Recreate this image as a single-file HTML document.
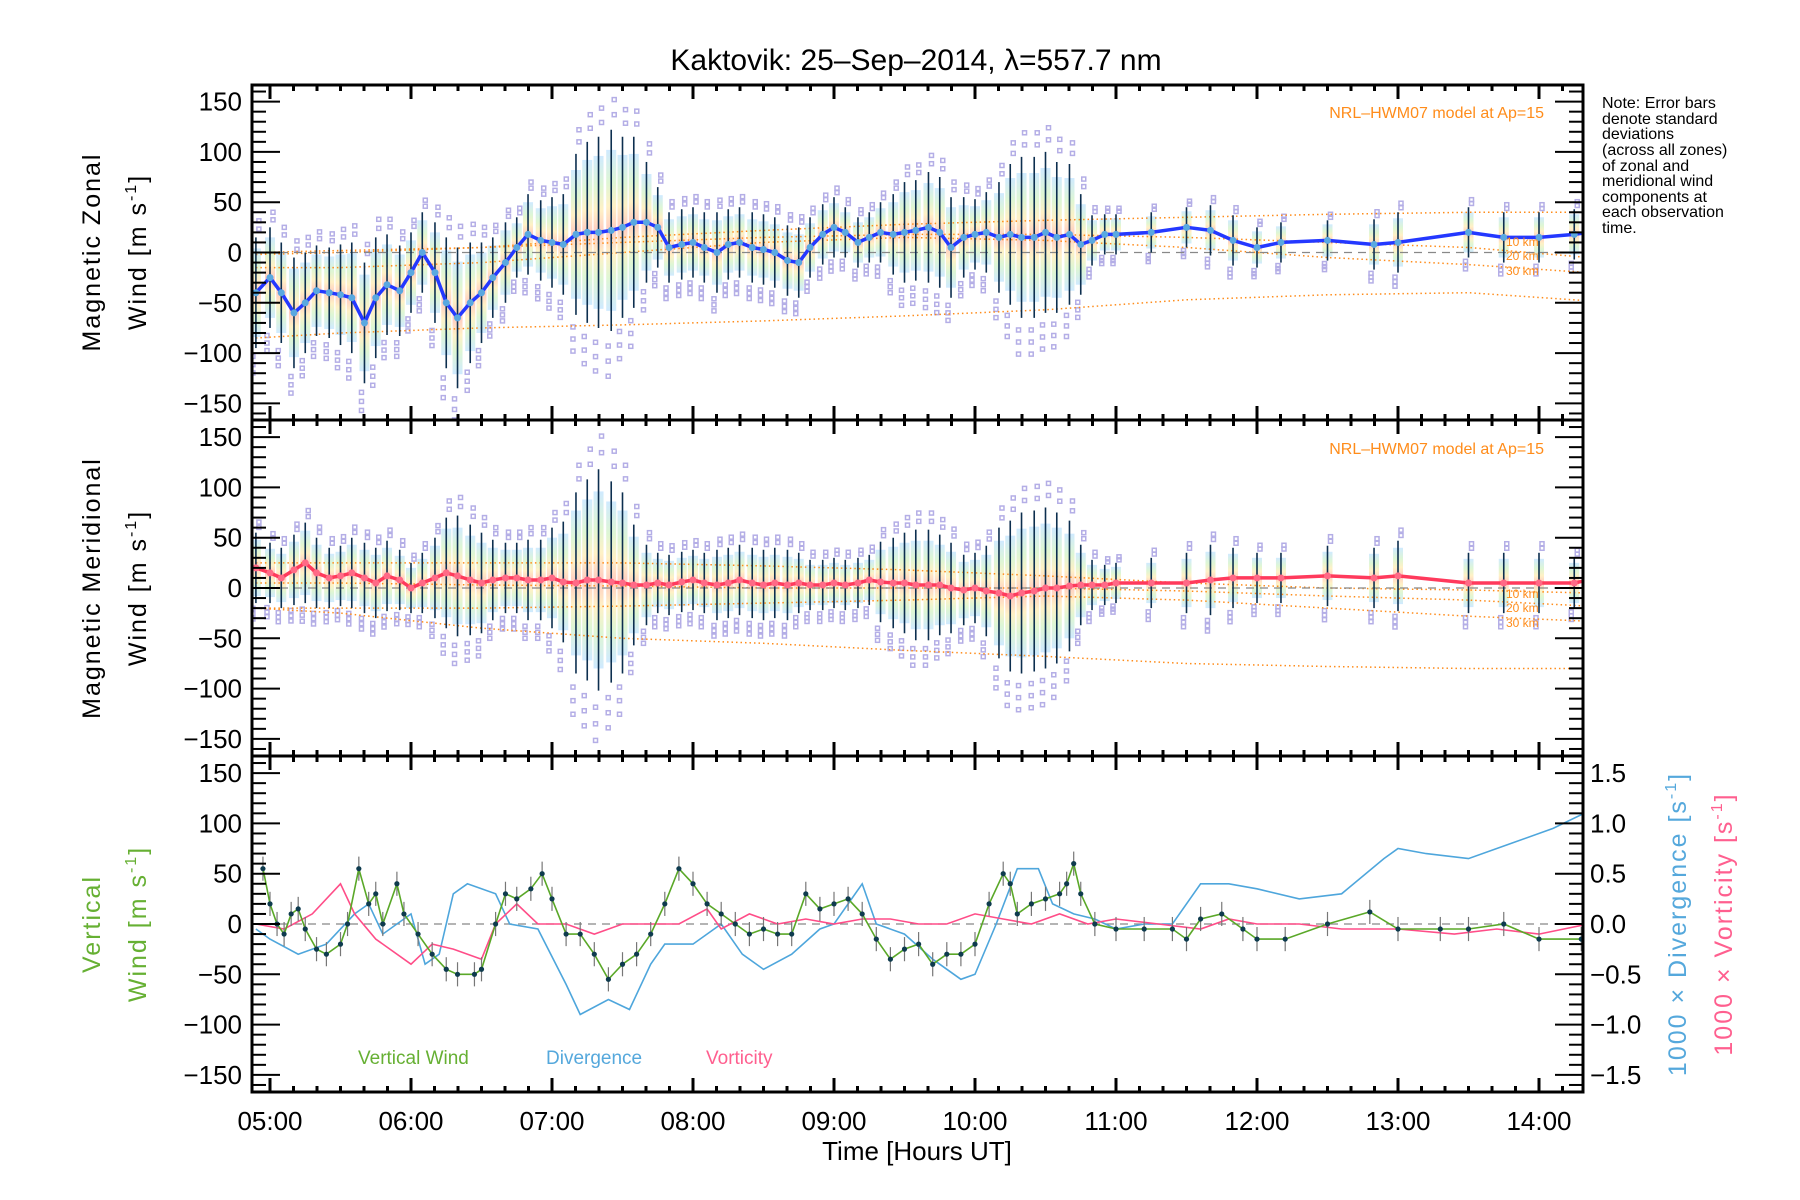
<!DOCTYPE html>
<html><head><meta charset="utf-8"><style>
html,body{margin:0;padding:0;background:#fff;}
svg{display:block;font-family:"Liberation Sans",sans-serif;}
</style></head><body>
<svg id="chart" width="1800" height="1200" viewBox="0 0 1800 1200" xmlns="http://www.w3.org/2000/svg">
<defs>
<clipPath id="c1"><rect x="252" y="85" width="1331" height="335"/></clipPath>
<clipPath id="c2"><rect x="252" y="420" width="1331" height="336"/></clipPath>
<clipPath id="c3"><rect x="252" y="756" width="1331" height="336"/></clipPath>
<linearGradient id="rb" x1="0" y1="0" x2="0" y2="1">
<stop offset="0" stop-color="#b0dcff"/><stop offset="0.2" stop-color="#c8f0b8"/><stop offset="0.35" stop-color="#ffe8a0"/><stop offset="0.5" stop-color="#ffa898"/><stop offset="0.65" stop-color="#ffe8a0"/><stop offset="0.8" stop-color="#c8f0b8"/><stop offset="1" stop-color="#b0dcff"/>
</linearGradient>
</defs>
<text x="916" y="70" font-size="30" text-anchor="middle">Kaktovik: 25–Sep–2014, λ=557.7 nm</text>
<g id="layer"></g>
<text transform="translate(100,252) rotate(-90)" font-size="25" text-anchor="middle" letter-spacing="2">Magnetic Zonal</text>
<text transform="translate(146,252) rotate(-90)" font-size="25" text-anchor="middle" letter-spacing="2">Wind [m s<tspan font-size="16" dy="-10">-1</tspan><tspan dy="10">]</tspan></text>
<text transform="translate(100,588) rotate(-90)" font-size="25" text-anchor="middle" letter-spacing="2">Magnetic Meridional</text>
<text transform="translate(146,588) rotate(-90)" font-size="25" text-anchor="middle" letter-spacing="2">Wind [m s<tspan font-size="16" dy="-10">-1</tspan><tspan dy="10">]</tspan></text>
<text transform="translate(100,924) rotate(-90)" font-size="25" text-anchor="middle" fill="#66b033" letter-spacing="2">Vertical</text>
<text transform="translate(146,924) rotate(-90)" font-size="25" text-anchor="middle" fill="#66b033" letter-spacing="2">Wind [m s<tspan font-size="16" dy="-10">-1</tspan><tspan dy="10">]</tspan></text>
<text transform="translate(1686,924) rotate(-90)" font-size="25" text-anchor="middle" fill="#55a8dc" letter-spacing="2">1000 × Divergence [s<tspan font-size="16" dy="-10">-1</tspan><tspan dy="10">]</tspan></text>
<text transform="translate(1732,924) rotate(-90)" font-size="25" text-anchor="middle" fill="#ff5f8f" letter-spacing="2">1000 × Vorticity [s<tspan font-size="16" dy="-10">-1</tspan><tspan dy="10">]</tspan></text>
<text x="917" y="1160" font-size="26" text-anchor="middle">Time [Hours UT]</text>
<g font-size="16" fill="#000">
<text x="1602" y="108">Note: Error bars</text><text x="1602" y="124">denote standard</text><text x="1602" y="139">deviations</text><text x="1602" y="155">(across all zones)</text><text x="1602" y="171">of zonal and</text><text x="1602" y="186">meridional wind</text><text x="1602" y="202">components at</text><text x="1602" y="217">each observation</text><text x="1602" y="233">time.</text>
</g>
<text x="1544" y="118" font-size="16" fill="#ff8c1a" text-anchor="end">NRL–HWM07 model at Ap=15</text>
<text x="1544" y="454" font-size="16" fill="#ff8c1a" text-anchor="end">NRL–HWM07 model at Ap=15</text>
<g font-size="12" fill="#ff8c1a">
<text x="1506" y="246">10 km</text><text x="1506" y="260">20 km</text><text x="1506" y="275">30 km</text>
<text x="1506" y="598">10 km</text><text x="1506" y="612">20 km</text><text x="1506" y="627">30 km</text>
</g>
<text x="358" y="1064" font-size="19" fill="#66b033">Vertical Wind</text>
<text x="546" y="1064" font-size="19" fill="#55a8dc">Divergence</text>
<text x="706" y="1064" font-size="19" fill="#ff5f8f">Vorticity</text>
</svg>
<script>
const zT=[4.9,5.0,5.08,5.17,5.25,5.33,5.42,5.5,5.58,5.67,5.75,5.83,5.92,6.0,6.08,6.17,6.25,6.33,6.42,6.5,6.58,6.67,6.75,6.83,6.92,7.0,7.08,7.17,7.25,7.33,7.42,7.5,7.58,7.67,7.75,7.83,7.92,8.0,8.08,8.17,8.25,8.33,8.42,8.5,8.58,8.67,8.75,8.83,8.92,9.0,9.08,9.17,9.25,9.33,9.42,9.5,9.58,9.67,9.75,9.83,9.92,10.0,10.08,10.17,10.25,10.33,10.42,10.5,10.58,10.67,10.75,10.83,10.92,11.0,11.25,11.5,11.67,11.83,12.0,12.17,12.5,12.83,13.0,13.5,13.75,14.0,14.25,14.35];
const zV=[-40,-25,-40,-60,-50,-38,-40,-42,-45,-70,-45,-32,-38,-20,0,-20,-50,-65,-50,-40,-25,-10,5,18,12,10,8,18,20,20,22,25,30,30,25,5,8,10,5,0,8,10,5,3,0,-8,-10,5,18,25,20,10,15,20,18,20,22,25,20,5,15,18,20,15,18,15,15,20,15,18,8,12,18,18,20,25,22,12,5,10,12,8,10,20,15,15,18,20];
const zS=[55,50,50,55,50,45,45,50,55,60,60,50,45,40,40,50,65,70,60,50,40,40,30,40,40,45,50,80,90,95,100,90,85,60,40,35,35,35,35,40,35,35,35,35,35,35,35,30,30,30,25,25,25,30,40,50,50,55,55,50,40,35,40,55,70,80,80,80,75,70,50,25,20,20,20,20,25,25,20,20,20,25,30,25,25,25,25,25];
const mT=zT;
const mV=[20,15,10,18,25,15,10,12,15,10,5,12,8,0,5,10,15,12,8,5,8,10,10,8,8,10,6,5,8,8,6,5,3,3,5,3,6,8,5,3,5,8,5,3,5,3,5,3,3,5,3,5,8,6,5,5,3,3,3,0,-2,0,-3,-5,-8,-5,-3,0,0,2,3,3,3,5,5,5,8,10,10,10,12,10,12,5,5,5,5,8];
const mS=[35,30,30,35,40,35,30,30,35,35,35,35,30,25,30,40,55,60,55,50,40,35,35,40,40,50,60,90,100,110,100,90,60,40,30,30,30,30,30,35,35,35,35,35,35,35,30,25,25,25,25,25,25,40,45,50,55,55,50,45,35,35,45,65,75,80,80,80,75,65,40,25,20,20,25,30,35,30,25,25,30,30,35,30,30,30,25,25];
const hwmT=[4.9,5.5,6.5,7.5,8.5,9.5,10.5,11.5,12.5,13.5,14.35];
const zHwm1=[-85,-80,-75,-72,-68,-63,-57,-47,-42,-40,-48];
const zHwm2=[-2,0,5,15,22,28,32,35,38,40,40];
const zHwm3=[0,2,5,10,15,18,18,15,10,5,-5];
const zHwm4=[-15,-15,-10,0,10,15,12,5,-5,-12,-20];
const mHwm1=[-20,-25,-40,-50,-55,-62,-68,-75,-78,-80,-80];
const mHwm2=[25,25,25,25,22,18,12,5,0,-2,-5];
const mHwm3=[5,5,3,2,0,0,0,-3,-8,-12,-18];
const mHwm4=[-20,-20,-20,-18,-15,-12,-8,-12,-20,-28,-33];
const vwT=[4.95,5.0,5.05,5.1,5.15,5.2,5.25,5.33,5.4,5.5,5.55,5.63,5.7,5.75,5.8,5.9,5.95,6.05,6.15,6.25,6.33,6.45,6.5,6.6,6.67,6.75,6.85,6.93,7.0,7.1,7.2,7.3,7.4,7.5,7.6,7.7,7.8,7.9,8.0,8.1,8.2,8.3,8.4,8.5,8.6,8.7,8.8,8.9,9.0,9.1,9.2,9.3,9.4,9.5,9.6,9.7,9.8,9.9,10.0,10.1,10.2,10.25,10.3,10.4,10.5,10.6,10.65,10.7,10.75,10.85,11.0,11.2,11.4,11.5,11.6,11.75,11.9,12.0,12.2,12.5,12.8,13.0,13.3,13.5,13.75,14.0,14.3];
const vwV=[55,20,0,-10,10,15,-5,-25,-30,-20,0,55,20,30,0,40,10,-10,-30,-45,-50,-50,-45,0,30,25,35,50,25,-10,-10,-30,-55,-40,-30,-10,20,55,40,20,10,0,-10,-5,-10,-10,30,15,20,25,10,-15,-35,-25,-20,-40,-30,-30,-20,20,50,40,10,20,25,30,40,60,30,0,-5,-5,-5,-15,5,10,-5,-15,-15,0,12,-5,-5,-5,0,-15,-15];
const divT=[4.9,5.0,5.2,5.4,5.6,5.7,5.8,6.0,6.1,6.2,6.3,6.4,6.5,6.6,6.7,6.9,7.1,7.2,7.4,7.55,7.7,7.8,8.0,8.2,8.35,8.5,8.7,8.9,9.0,9.2,9.3,9.5,9.7,9.9,10.0,10.15,10.3,10.45,10.55,10.7,10.85,11.0,11.2,11.4,11.6,11.8,12.0,12.3,12.6,12.9,13.0,13.2,13.5,13.8,14.1,14.35];
const divV=[-0.05,-0.15,-0.3,-0.2,0.1,0.2,-0.1,0.1,-0.4,-0.3,0.3,0.4,0.35,0.3,0.0,-0.05,-0.6,-0.9,-0.75,-0.85,-0.4,-0.2,-0.2,0.0,-0.3,-0.45,-0.3,-0.05,0.0,0.4,0.0,-0.1,-0.35,-0.55,-0.5,0.0,0.55,0.55,0.2,0.1,0.05,-0.05,0.0,0.0,0.4,0.4,0.35,0.25,0.3,0.65,0.75,0.7,0.65,0.8,0.95,1.12];
const vortT=[4.9,5.1,5.3,5.5,5.6,5.75,6.0,6.15,6.3,6.5,6.6,6.75,6.9,7.1,7.3,7.5,7.7,7.9,8.1,8.2,8.4,8.6,8.8,9.0,9.2,9.4,9.6,9.8,10.0,10.2,10.4,10.6,10.8,11.0,11.3,11.6,11.8,12.0,12.3,12.6,13.0,13.4,13.7,14.0,14.35];
const vortV=[0.0,-0.05,0.1,0.4,0.1,-0.15,-0.4,-0.2,-0.25,-0.35,0.0,0.2,0.0,0.0,-0.1,0.0,0.0,0.0,0.15,-0.05,0.1,0.0,0.05,0.0,0.05,0.05,0.0,0.0,0.1,0.05,0.0,0.1,0.0,0.05,0.0,-0.05,0.05,0.0,0.0,-0.05,-0.05,-0.1,-0.05,-0.1,0.0];
const xTickLabels=["05:00","06:00","07:00","08:00","09:00","10:00","11:00","12:00","13:00","14:00"];
const yTickLabels=["150","100","50","0","−50","−100","−150"];
const rTickLabels=["1.5","1.0","0.5","0.0","−0.5","−1.0","−1.5"];

const NS="http://www.w3.org/2000/svg";
const L=252,R=1583;
const P=[{top:85,bot:420,c:252.5},{top:420,bot:756,c:588},{top:756,bot:1092,c:924}];
const K=1.006;
function X(h){return 270+(h-5)*141;}
function Y(p,v){return P[p].c-v*K;}
const layer=document.getElementById('layer');
function el(tag,attrs,parent){const e=document.createElementNS(NS,tag);for(const k in attrs)e.setAttribute(k,attrs[k]);(parent||layer).appendChild(e);return e;}
function pts(p,ts,vs,scale){return ts.map((t,i)=>X(t).toFixed(1)+','+Y(p,vs[i]*(scale||1)).toFixed(1)).join(' ');}

[[0,zT,zV,zS,'#2438ff',[zHwm1,zHwm2,zHwm3,zHwm4],'zonal'],[1,mT,mV,mS,'#ff3a5c',[mHwm1,mHwm2,mHwm3,mHwm4],'meridional']].forEach(cfg=>{
  const [p,ts,vs,ss,col,hw,nm]=cfg;
  const g=el('g',{'clip-path':'url(#c'+(p+1)+')'});
  
  
  ts.forEach((t,i)=>{
    const r=el('rect',{x:X(t)-5,y:Y(p,vs[i]+ss[i]*0.8),width:10,height:ss[i]*1.6*K,fill:'url(#rb)',opacity:0.6},g);
    
    
  });
  ts.forEach((t,i)=>{
    [1.15,1.3,-1.15,-1.3,-1.45].forEach(f=>{
      const q=el('rect',{x:X(t)-2+(f>0?3:-3),y:Y(p,vs[i]+ss[i]*f)-2,width:4,height:4,fill:'none',stroke:'#b4aee6','stroke-width':1.5},g);
      
      
    });
  });
  hw.forEach((arr,k)=>{
    const l=el('polyline',{points:pts(p,hwmT,arr),fill:'none',stroke:'#ff8c1a','stroke-width':1.5,'stroke-dasharray':'1.5 3'},g);
    
    
  });
  const z=el('line',{x1:L,x2:R,y1:Y(p,0),y2:Y(p,0),stroke:'#888','stroke-dasharray':'8 6','stroke-width':1.2},g);
  
  
  ts.forEach((t,i)=>{
    const e=el('line',{x1:X(t),x2:X(t),y1:Y(p,vs[i]-ss[i]),y2:Y(p,vs[i]+ss[i]),stroke:'#0d2f4f','stroke-width':1.6},g);
    
    
  });
  const ln=el('polyline',{points:pts(p,ts,vs),fill:'none',stroke:col,'stroke-width':3.5,'stroke-linejoin':'round'},g);
  
  
  ts.forEach((t,i)=>{
    const d=el('circle',{cx:X(t),cy:Y(p,vs[i]),r:3.5,fill:p==0?'#5aa8e0':'#ff6a86'},g);
    
    
  });
});

{
  const g=el('g',{'clip-path':'url(#c3)'});
  
  
  const z=el('line',{x1:L,x2:R,y1:Y(2,0),y2:Y(2,0),stroke:'#888','stroke-dasharray':'8 6','stroke-width':1.2},g);
  
  
  const dv=el('polyline',{points:pts(2,divT,divV,100),fill:'none',stroke:'#4ea6dc','stroke-width':1.6},g);
  
  
  const vo=el('polyline',{points:pts(2,vortT,vortV,100),fill:'none',stroke:'#ff4d88','stroke-width':1.6},g);
  
  
  vwT.forEach((t,i)=>{
    const e=el('line',{x1:X(t),x2:X(t),y1:Y(2,vwV[i]-12),y2:Y(2,vwV[i]+12),stroke:'#777','stroke-width':1.2},g);
    
    
  });
  const vw=el('polyline',{points:pts(2,vwT,vwV),fill:'none',stroke:'#5aa828','stroke-width':1.6},g);
  
  
  vwT.forEach((t,i)=>{
    const d=el('circle',{cx:X(t),cy:Y(2,vwV[i]),r:2.6,fill:'#0e3b4e'},g);
    
    
  });
}

const ax=el('g',{stroke:'#000',fill:'none'});


P.forEach((pp,p)=>{
  const fr=el('rect',{x:L,y:pp.top,width:R-L,height:pp.bot-pp.top,'stroke-width':3},ax);
  
  
  for(let v=-160;v<=160;v+=10){
    const major=v%50===0;const len=major?28:14;const y=Y(p,v);
    el('line',{x1:L,x2:L+len,y1:y,y2:y,'stroke-width':2},ax);
    if(p<2) el('line',{x1:R,x2:R-len,y1:y,y2:y,'stroke-width':2},ax);
  }
  if(p==2){for(let v=-1.6;v<=1.61;v+=0.1){const r=Math.round(v*10);const major=r%5===0;const len=major?28:14;const y=Y(2,v*100);el('line',{x1:R,x2:R-len,y1:y,y2:y,'stroke-width':2},ax);}}
  for(let m=-8*60;m<=(14.35-5)*60*1.0+1;m+=10){
    const h=5+m/60; if(X(h)<L||X(h)>R) continue;
    const major=Math.round(m)%60===0;const len=major?14:6;
    el('line',{x1:X(h),x2:X(h),y1:pp.bot,y2:pp.bot-len,'stroke-width':3},ax);
    el('line',{x1:X(h),x2:X(h),y1:pp.top,y2:pp.top+len,'stroke-width':3},ax);
  }
  yTickLabels.forEach((s,i)=>{
    const t=el('text',{x:242,y:Y(p,150-i*50)+9,'font-size':26,'text-anchor':'end',fill:'#000',stroke:'none'});
    t.textContent=s;
    
    
  });
});
rTickLabels.forEach((s,i)=>{
  const t=el('text',{x:1590,y:Y(2,150-i*50)+9,'font-size':26,fill:'#000'});
  t.textContent=s;
  
  
});
xTickLabels.forEach((s,i)=>{
  const t=el('text',{x:X(5+i),y:1130,'font-size':26,'text-anchor':'middle',fill:'#000'});
  t.textContent=s;
  
  
});
</script>
</body></html>
